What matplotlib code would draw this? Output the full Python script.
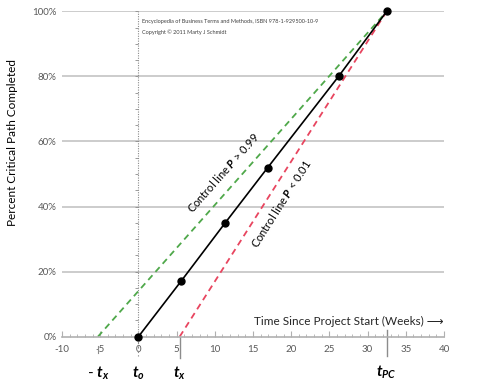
import matplotlib
matplotlib.use("Agg")
import matplotlib.pyplot as plt
from matplotlib.ticker import MultipleLocator

plt.rcParams['font.family'] = ['Lato', 'DejaVu Sans']
plt.rcParams['mathtext.fontset'] = 'custom'
plt.rcParams['mathtext.rm'] = 'Lato:bold'
plt.rcParams['mathtext.it'] = 'Lato:italic:bold'
plt.rcParams['mathtext.bf'] = 'Lato:bold'

# Data
weeks = [0, 5.6, 11.3, 16.9, 26.2, 32.5]
pct_complete = [0, 17.1, 34.8, 51.9, 80, 100]
upper_ctrl_x = [-5.3, 32.5]
upper_ctrl_y = [0, 100]
lower_ctrl_x = [5.4, 32.5]
lower_ctrl_y = [0, 100]
t_x_neg = -5.3
t_o = 0
t_x = 5.4
t_pc = 32.5
y_ticks = [0, 20, 40, 60, 80, 100]
x_ticks = [-10, -5, 0, 5, 10, 15, 20, 25, 30, 35, 40]

fig = plt.figure(figsize=(5, 3.85), dpi=100)
ax = fig.add_axes([0.124, 0.1255, 0.764, 0.845])
ax.set_xlim(-10, 40)
ax.set_ylim(0, 100)

gray = '#8c8c8c'
for v in y_ticks[1:]:
    ax.axhline(v, color='#c4c4c4', lw=1.2, zorder=0)

for s in ['top', 'right', 'left']:
    ax.spines[s].set_visible(False)
ax.spines['bottom'].set_color('#b0b0b0')
ax.spines['bottom'].set_linewidth(1.2)

ax.set_xticks(x_ticks)
ax.set_xticklabels([str(v) for v in x_ticks])
ax.xaxis.set_minor_locator(MultipleLocator(1))
ax.tick_params(axis='x', which='major', direction='in', length=4, color='#b0b0b0',
               labelsize=7, labelcolor='#595959', pad=6)
ax.tick_params(axis='x', which='minor', direction='in', length=2, color='#b0b0b0')

ax.set_yticks(y_ticks)
ax.set_yticklabels([f"{v}%" for v in y_ticks])
ax.tick_params(axis='y', which='both', length=0, labelsize=7, labelcolor='#595959', pad=4)

# dotted vertical axis at x=0 with small ticks
ax.axvline(0, color=gray, lw=0.8, ls=(0, (1, 1.2)), zorder=1)
sec = ax.secondary_yaxis(0.2)
sec.spines['left'].set_visible(False)
sec.set_yticks(y_ticks)
sec.yaxis.set_minor_locator(MultipleLocator(5))
sec.tick_params(axis='y', which='both', length=2.5, width=0.6, color=gray,
                direction='out', labelleft=False)

fig.text(0.026, 0.63, 'Percent Critical Path Completed', fontsize=8.5,
         rotation=90, ha='center', va='center')

# control lines
ax.plot(upper_ctrl_x, upper_ctrl_y, color='#4fa84a', lw=1.3, dashes=(3.5, 2.5), zorder=2)
ax.plot(lower_ctrl_x, lower_ctrl_y, color='#e8455f', lw=1.3, dashes=(3.5, 2.5), zorder=2)
# main line
ax.plot(weeks, pct_complete, color='black', lw=1.2, marker='o', markersize=5,
        zorder=3, clip_on=False)

# markers below axis
ax.plot([t_o, t_o], [0, -6], color=gray, lw=0.8, ls=(0, (2, 2)), clip_on=False)
ax.plot([t_x_neg, t_x_neg], [-3, -5], color=gray, lw=0.8, clip_on=False)
ax.plot([t_x, t_x], [0, -6.5], color=gray, lw=1.0, clip_on=False)
ax.plot([t_pc, t_pc], [2, -6], color=gray, lw=1.0, clip_on=False)

lab_kw = dict(fontsize=11, ha='center', va='center', clip_on=False)
ax.text(t_x_neg, -11.3, r'- $t_x$', **lab_kw)
ax.text(t_o, -11.3, r'$t_o$', **lab_kw)
ax.text(t_x, -11.3, r'$t_x$', **lab_kw)
ax.text(t_pc, -11.0, r'$t_{PC}$', **lab_kw)

ax.text(40, 4.8, 'Time Since Project Start (Weeks) ⟶', fontsize=8.5, ha='right',
        va='center', color='#262626')

ax.text(11.1, 50.5, r'Control line $P$ > 0.99', fontsize=8, rotation=48.5,
        ha='center', va='center', rotation_mode='anchor')
ax.text(18.7, 41.0, r'Control line $P$ < 0.01', fontsize=8, rotation=57.5,
        ha='center', va='center', rotation_mode='anchor')

ax.text(0.5, 97, 'Encyclopedia of Business Terms and Methods, ISBN 978-1-929500-10-9',
        fontsize=4, va='center', ha='left', color='#404040')
ax.text(0.5, 93.6, 'Copyright © 2011 Marty J Schmidt', fontsize=4, va='center',
        ha='left', color='#404040')

fig.savefig('out.png', dpi=100)
